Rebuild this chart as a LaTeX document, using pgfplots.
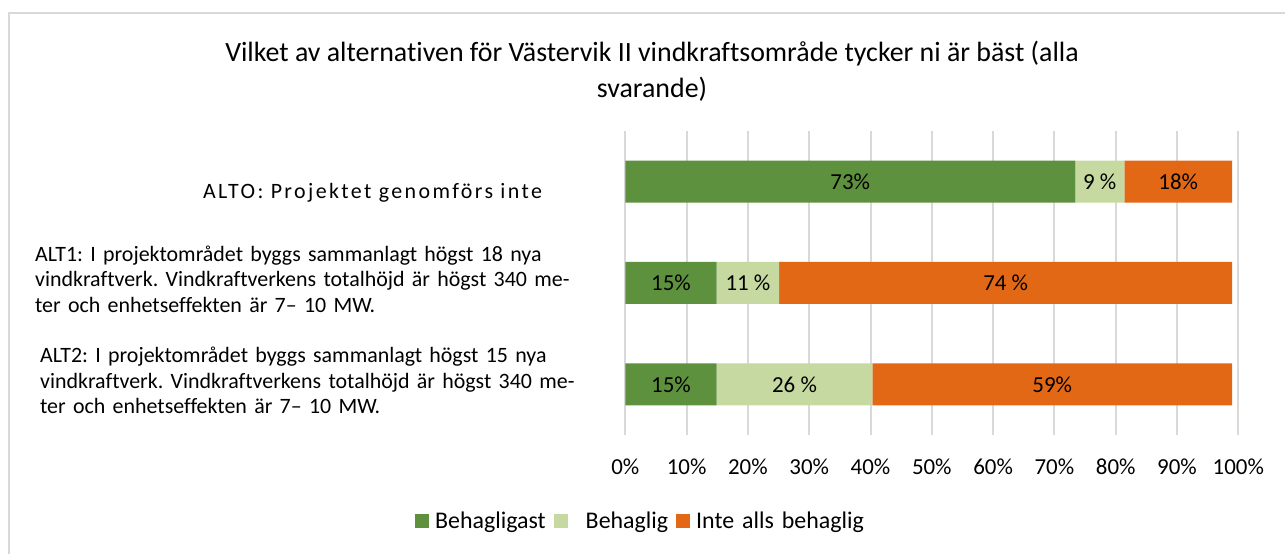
\documentclass[border=0pt]{standalone}
\usepackage{fontspec}
\setmainfont{Carlito}[Ligatures=NoCommon]
\newfontfamily\altfont{Carlito}[LetterSpace=11, Ligatures=NoCommon]
\usepackage{pgfplots}
\pgfplotsset{compat=1.18}
\definecolor{dgreen}{RGB}{94,145,61}
\definecolor{lgreen}{RGB}{197,217,160}
\definecolor{orng}{RGB}{226,104,22}
\definecolor{gridgray}{RGB}{217,217,217}
\frenchspacing

\begin{document}
\begin{tikzpicture}[x=1bp,y=1bp]
\path[use as bounding box] (0,0) rectangle (1285,554);
\draw[gridgray, line width=2bp] (9,0) -- (9,541) -- (1285,541);
\node[font=\fontsize{28}{36}\selectfont, align=center] at (652,483)
  {Vilket av alternativen för Västervik II vindkraftsområde tycker ni är bäst (alla\\svarande)};
\begin{axis}[
  at={(625.3bp,119bp)}, anchor=south west,
  scale only axis, width=613bp, height=304bp,
  xbar stacked, bar width=42bp,
  xmin=0, xmax=100, ymin=-0.5, ymax=2.5,
  y dir=reverse,
  axis line style={draw=none},
  tick style={draw=none},
  xmajorgrids,
  grid style={gridgray, line width=2bp},
  xtick={0,10,...,100},
  xticklabels={0\%,10\%,20\%,30\%,40\%,50\%,60\%,70\%,80\%,90\%,100\%},
  xticklabel style={font=\fontsize{23}{27}\selectfont, anchor=center, yshift=-32bp},
  ytick={0,1,2},
  yticklabels={
    {\hspace*{168bp}\raisebox{-15bp}[\height][\depth]{\altfont\fontsize{22}{26}\selectfont ALTO: Projektet genomförs inte}},
    {ALT1: I projektområdet byggs sammanlagt högst 18 nya\\vindkraftverk. Vindkraftverkens totalhöjd är högst 340 me-\\ter och enhetseffekten är 7– 10 MW.},
    {\hspace*{5bp}ALT2: I projektområdet byggs sammanlagt högst 15 nya\\\hspace*{5bp}vindkraftverk. Vindkraftverkens totalhöjd är högst 340 me-\\\hspace*{5bp}ter och enhetseffekten är 7– 10 MW.}
  },
  yticklabel style={font=\fontsize{22}{25.5}\selectfont, text width=580bp, align=left,
    anchor=east, inner sep=0pt, xshift=-10bp, yshift=4bp},
  point meta=explicit symbolic,
  nodes near coords,
  every node near coord/.append style={font=\fontsize{23}{27}\selectfont, black},
  legend columns=3,
  legend style={draw=none, fill=none, inner sep=0pt, at={(-0.343,-0.283)}, anchor=west,
    font=\fontsize{24}{28}\selectfont,
    nodes={inner sep=0pt},
    /tikz/every odd column/.append style={column sep=6bp},
    /tikz/every even column/.append style={column sep=8bp}},
  legend image code/.code={\fill[#1] (0bp,-7bp) rectangle (14bp,7bp);},
]
\addplot[fill=dgreen, draw=none] coordinates {(73.4,0) [73\%] (14.9,1) [15\%] (14.9,2) [15\%]};
\addlegendentry{Behagligast}
\addplot[fill=lgreen, draw=none] coordinates {(8.0,0) [9 \%] (10.2,1) [11 \%] (25.4,2) [26 \%]};
\addlegendentry{\hspace*{12bp}Behaglig}
\addplot[fill=orng, draw=none] coordinates {(17.6,0) [18\%] (73.9,1) [74 \%] (58.7,2) [59\%]};
\addlegendentry{Inte\hspace{8bp}alls\hspace{8bp}behaglig}
\end{axis}
\end{tikzpicture}
\end{document}
